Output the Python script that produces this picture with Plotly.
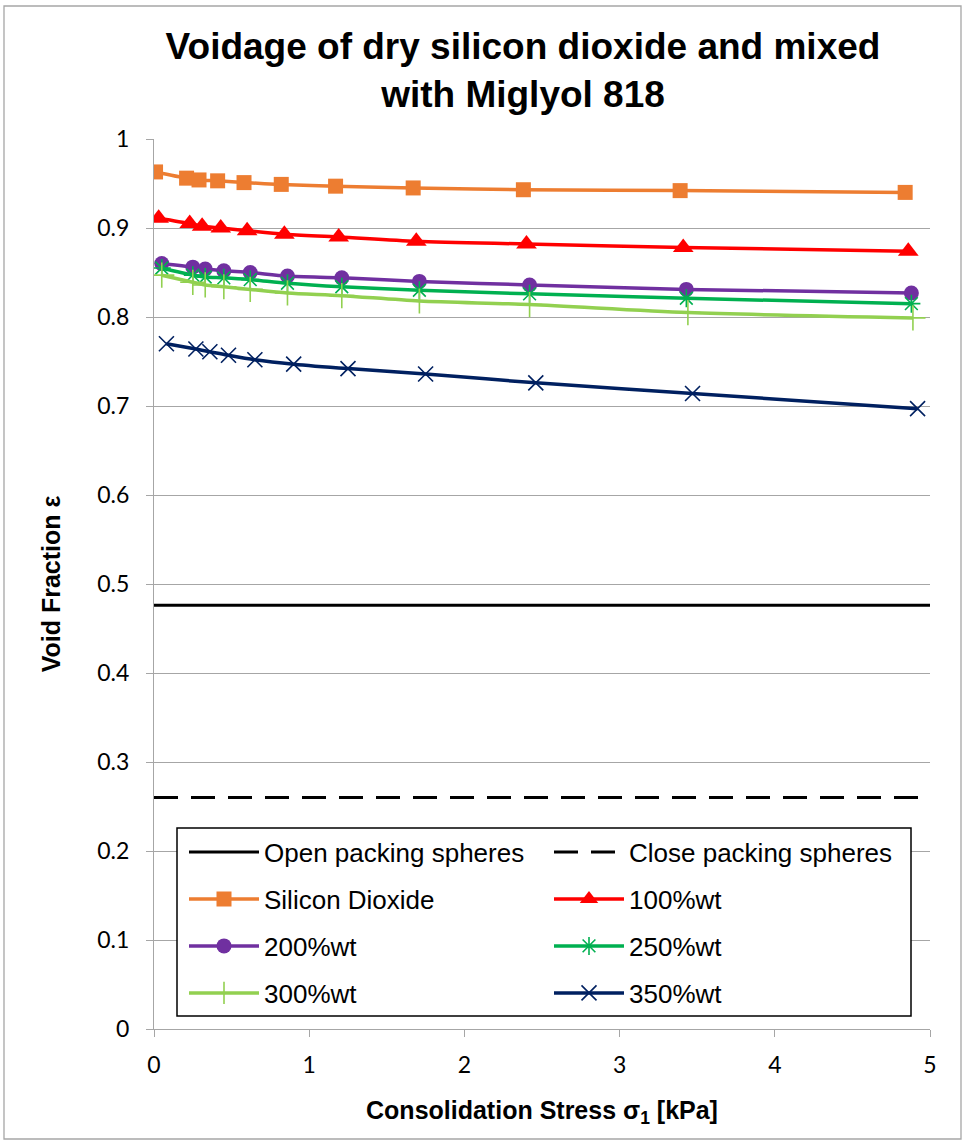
import plotly.graph_objects as go

# Consolidation stress [kPa] and void fraction for each sample
sio2_x = [0.01, 0.21, 0.29, 0.41, 0.58, 0.82, 1.17, 1.67, 2.38, 3.39, 4.84]
sio2_y = [0.963, 0.956, 0.954, 0.953, 0.951, 0.949, 0.947, 0.945, 0.943, 0.942, 0.940]

wt100_x = [0.03, 0.23, 0.31, 0.43, 0.60, 0.84, 1.19, 1.69, 2.40, 3.41, 4.86]
wt100_y = [0.911, 0.905, 0.902, 0.900, 0.897, 0.893, 0.890, 0.885, 0.882, 0.878, 0.874]

wt200_x = [0.05, 0.25, 0.33, 0.45, 0.62, 0.86, 1.21, 1.71, 2.42, 3.43, 4.88]
wt200_y = [0.860, 0.856, 0.854, 0.852, 0.850, 0.846, 0.844, 0.840, 0.836, 0.831, 0.827]

wt250_x = [0.05, 0.25, 0.33, 0.45, 0.62, 0.86, 1.21, 1.71, 2.42, 3.43, 4.88]
wt250_y = [0.855, 0.847, 0.845, 0.844, 0.842, 0.838, 0.834, 0.830, 0.826, 0.821, 0.815]

wt300_x = [0.05, 0.25, 0.33, 0.45, 0.62, 0.86, 1.21, 1.71, 2.42, 3.44, 4.89]
wt300_y = [0.847, 0.839, 0.836, 0.834, 0.831, 0.827, 0.824, 0.818, 0.814, 0.805, 0.799]

wt350_x = [0.08, 0.27, 0.36, 0.48, 0.65, 0.90, 1.25, 1.75, 2.46, 3.47, 4.92]
wt350_y = [0.770, 0.764, 0.761, 0.757, 0.752, 0.747, 0.742, 0.736, 0.726, 0.714, 0.697]

# Theoretical sphere packing voidage
ref_x = [0, 5]
open_packing = 0.476
close_packing = 0.26

W, H = 964, 1142
ML, MR, MT, MB = 154, 34, 139, 113
PW, PH = W - ML - MR, H - MT - MB

ARIAL = "Liberation Sans, Arial, sans-serif"
TICKFONT = "Lato, Open Sans, sans-serif"


def px_to_paper_x(px):
    return (px - ML) / PW


def px_to_paper_y(py):
    return (H - MB - py) / PH


fig = go.Figure()

fig.add_trace(go.Scatter(
    x=ref_x, y=[open_packing, open_packing], mode="lines",
    name="Open packing spheres", line=dict(color="black", width=3),
    legend="legend"))
fig.add_trace(go.Scatter(
    x=ref_x, y=[close_packing, close_packing], mode="lines",
    name="Close packing spheres", line=dict(color="black", width=3, dash="24px,13px"),
    legend="legend"))

series = [
    ("Silicon Dioxide", sio2_x, sio2_y, "#ED7D31", "square", 15, "legend2"),
    ("100%wt", wt100_x, wt100_y, "#FF0000", "triangle-up", 18, "legend2"),
    ("200%wt", wt200_x, wt200_y, "#7030A0", "circle", 15, "legend3"),
    ("250%wt", wt250_x, wt250_y, "#00B050", "asterisk-open", 15, "legend3"),
    ("300%wt", wt300_x, wt300_y, "#92D050", "cross-thin-open", 18, "legend4"),
    ("350%wt", wt350_x, wt350_y, "#002060", "x-thin-open", 15, "legend4"),
]

for name, xs, ys, color, symbol, size, leg in series:
    open_sym = symbol.endswith("open")
    fig.add_trace(go.Scatter(
        x=xs, y=ys, mode="lines+markers", name=name,
        line=dict(color=color, width=3.5, shape="spline", smoothing=0.8),
        marker=dict(symbol=symbol, size=size, color=color,
                    line=dict(color=color, width=1.6 if open_sym else 0)),
        legend=leg))

# Legend rows, two entries each, inside a white bordered box
row_centers = [852, 899, 946, 993]
legend_common = dict(
    orientation="h", xref="paper", yref="paper",
    xanchor="left", yanchor="middle",
    font=dict(family=ARIAL, size=26, color="black"),
    bgcolor="rgba(0,0,0,0)", borderwidth=0,
    entrywidth=280, entrywidthmode="pixels", itemwidth=70,
    traceorder="normal",
)
legends = {}
for i, yc in enumerate(row_centers):
    key = "legend" if i == 0 else f"legend{i + 1}"
    legends[key] = dict(legend_common, x=px_to_paper_x(184), y=px_to_paper_y(yc))

fig.update_layout(
    width=W, height=H,
    margin=dict(l=ML, r=MR, t=MT, b=MB, pad=0, autoexpand=False),
    paper_bgcolor="white", plot_bgcolor="white",
    title=dict(
        text="<b>Voidage of dry silicon dioxide and mixed<br>with Miglyol 818</b>",
        x=523 / W, xanchor="center", xref="container",
        y=1 - 59 / H, yanchor="top", yref="container",
        font=dict(family=ARIAL, size=37, color="black")),
    showlegend=True,
    **legends,
)

fig.update_xaxes(
    range=[0, 5], dtick=1, tick0=0,
    showgrid=False, zeroline=False,
    showline=True, linecolor="#A6A6A6", linewidth=1.3,
    ticks="outside", ticklen=7, tickcolor="#A6A6A6", tickwidth=1.3,
    tickfont=dict(family=TICKFONT, size=23, color="black"),
    ticklabelstandoff=8,
    title=dict(text="<b>Consolidation Stress σ<sub>1</sub> [kPa]</b>",
               font=dict(family=ARIAL, size=25, color="black"), standoff=24),
)
fig.update_yaxes(
    range=[0, 1], dtick=0.1, tick0=0,
    showgrid=True, gridcolor="#A6A6A6", gridwidth=1.3,
    zeroline=False,
    showline=True, linecolor="#A6A6A6", linewidth=1.3,
    ticks="outside", ticklen=7, tickcolor="#A6A6A6", tickwidth=1.3,
    tickfont=dict(family=TICKFONT, size=23, color="black"),
    ticklabelstandoff=12,
    title=dict(text="<b>Void Fraction ε</b>",
               font=dict(family=ARIAL, size=25, color="black"), standoff=29),
)

# Legend box and outer chart border
fig.add_shape(type="rect", xref="paper", yref="paper",
              x0=px_to_paper_x(177), x1=px_to_paper_x(911),
              y0=px_to_paper_y(1016), y1=px_to_paper_y(828),
              fillcolor="white", line=dict(color="black", width=1.5), layer="above")
fig.add_shape(type="rect", xref="paper", yref="paper",
              x0=px_to_paper_x(4), x1=px_to_paper_x(961),
              y0=px_to_paper_y(1139), y1=px_to_paper_y(6),
              fillcolor="rgba(0,0,0,0)", line=dict(color="#A6A6A6", width=1.3), layer="below")

fig.write_html("out.html")
